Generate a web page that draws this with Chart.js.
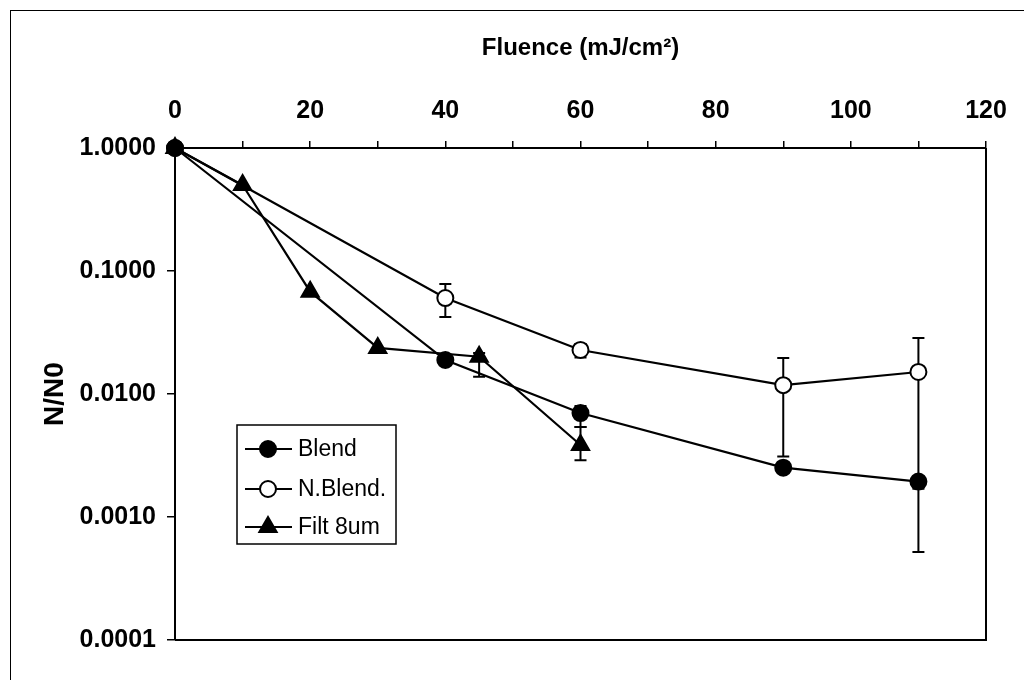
<!DOCTYPE html>
<html>
<head>
<meta charset="utf-8">
<script src="https://cdn.jsdelivr.net/npm/chart.js@4.4.1/dist/chart.umd.min.js"></script>
<style>
  html, body { margin: 0; padding: 0; background: #fff; overflow: hidden; }
  #wrap { position: relative; width: 1024px; height: 680px; overflow: hidden; }
  #frame { position: absolute; left: 10px; top: 10px; width: 1100px; height: 800px; border: 1.5px solid #000; }
  #chart { position: absolute; left: 0; top: 0; }
</style>
</head>
<body>
<div id="wrap">
  <div id="frame"></div>
  <canvas id="chart" width="1024" height="680"></canvas>
</div>
<script>
// values
const blendX = [0, 40, 60, 90, 110];
const blendY = [1.0, 0.0189, 0.0070, 0.00252, 0.00194];
const blendLo = [null, null, 0.0054, null, 0.00052];
const blendHi = [null, null, 0.0080, null, 0.0021];

const nblendX = [0, 40, 60, 90, 110];
const nblendY = [1.0, 0.0603, 0.0228, 0.0118, 0.0151];
const nblendLo = [null, 0.0423, 0.0198, 0.0031, 0.0017];
const nblendHi = [null, 0.0784, 0.0255, 0.0196, 0.0285];

const filtX = [0, 10, 20, 30, 45, 60];
const filtY = [1.0, 0.50, 0.0679, 0.0237, 0.0201, 0.00385];
const filtLo = [null, null, null, null, 0.0138, 0.0029];
const filtHi = [null, null, null, null, 0.0215, 0.0054];

const seriesNames = ['Blend', 'N.Blend.', 'Filt 8um'];
const yTicks = [0.0001, 0.001, 0.01, 0.1, 1];
const xTitle = 'Fluence (mJ/cm²)';
const yTitle = 'N/N0';

const pts = (xs, ys) => xs.map((x, i) => ({ x: x, y: ys[i] }));

Chart.defaults.font.family = "'Liberation Sans', Arial, sans-serif";
Chart.defaults.color = '#000';

const errorBars = {
    id: 'errorBars',
    beforeDatasetsDraw(chart) {
        const ctx = chart.ctx;
        const xs = chart.scales.x, ys = chart.scales.y;
        ctx.save();
        ctx.strokeStyle = '#000';
        ctx.lineWidth = 2;
        chart.data.datasets.forEach(ds => {
            ds.data.forEach((p, i) => {
                if (ds.errLo[i] == null) return;
                const px = xs.getPixelForValue(p.x);
                const top = ys.getPixelForValue(ds.errHi[i]);
                const bot = ys.getPixelForValue(ds.errLo[i]);
                ctx.beginPath();
                ctx.moveTo(px, top); ctx.lineTo(px, bot);
                ctx.moveTo(px - 6, top); ctx.lineTo(px + 6, top);
                ctx.moveTo(px - 6, bot); ctx.lineTo(px + 6, bot);
                ctx.stroke();
            });
        });
        ctx.restore();
    }
};

const frameAndLegend = {
    id: 'frameAndLegend',
    afterDraw(chart) {
        const ctx = chart.ctx;
        const a = chart.chartArea;
        ctx.save();
        ctx.strokeStyle = '#000';
        ctx.lineWidth = 2;
        ctx.beginPath();
        ctx.moveTo(a.right, a.top); ctx.lineTo(a.right, a.bottom);
        ctx.lineTo(a.left, a.bottom);
        ctx.stroke();

        // legend box
        const bx = 237, by = 425, bw = 159, bh = 119;
        ctx.fillStyle = '#fff';
        ctx.fillRect(bx, by, bw, bh);
        ctx.lineWidth = 1.5;
        ctx.strokeRect(bx, by, bw, bh);
        const rows = [449, 489, 527];
        ctx.font = "23px 'Liberation Sans', Arial, sans-serif";
        ctx.textBaseline = 'middle';
        chart.data.datasets.forEach((ds, i) => {
            const y = rows[i];
            ctx.strokeStyle = '#000';
            ctx.lineWidth = 2;
            ctx.beginPath();
            ctx.moveTo(245, y); ctx.lineTo(292, y);
            ctx.stroke();
            ctx.fillStyle = ds.pointBackgroundColor;
            Chart.helpers.drawPoint(ctx, {
                pointStyle: ds.pointStyle,
                radius: ds.pointRadius,
                borderWidth: ds.pointBorderWidth,
                rotation: 0
            }, 268, y);
            ctx.fillStyle = '#000';
            ctx.fillText(ds.label, 298, y + 1);
        });
        ctx.restore();
    }
};

const makeSet = (label, xs, ys, lo, hi, style, fill, r) => ({
    label: label,
    data: pts(xs, ys),
    errLo: lo,
    errHi: hi,
    borderColor: '#000',
    borderWidth: 2.2,
    tension: 0,
    pointStyle: style,
    pointRadius: r,
    pointHoverRadius: r,
    pointBackgroundColor: fill,
    pointBorderColor: '#000',
    pointBorderWidth: 2,
    clip: false
});

new Chart(document.getElementById('chart'), {
    type: 'line',
    data: {
        datasets: [
            makeSet(seriesNames[0], blendX, blendY, blendLo, blendHi, 'circle', '#000', 8),
            makeSet(seriesNames[1], nblendX, nblendY, nblendLo, nblendHi, 'circle', '#fff', 8),
            makeSet(seriesNames[2], filtX, filtY, filtLo, filtHi, 'triangle', '#000', 10)
        ]
    },
    options: {
        responsive: false,
        animation: false,
        events: [],
        layout: { padding: { left: 0, top: 0, right: 38, bottom: 40 } },
        plugins: { legend: { display: false }, tooltip: { enabled: false } },
        scales: {
            x: {
                type: 'linear',
                position: 'top',
                min: 0,
                max: 120,
                afterFit: s => { s.height = 148; },
                ticks: {
                    stepSize: 10,
                    autoSkip: false,
                    maxRotation: 0,
                    padding: 15,
                    font: { size: 25, weight: 'bold' },
                    callback: v => (v % 20 === 0 ? v : '')
                },
                grid: { drawOnChartArea: false, drawTicks: true, tickLength: 7, color: '#000', lineWidth: 1.5 },
                border: { display: true, color: '#000', width: 2 },
                title: {
                    display: true,
                    text: xTitle,
                    font: { size: 24, weight: 'bold' },
                    padding: { top: 34, bottom: 0 }
                }
            },
            y: {
                type: 'logarithmic',
                min: yTicks[0],
                max: yTicks[yTicks.length - 1],
                afterFit: s => { s.width = 175; },
                afterBuildTicks: s => { s.ticks = yTicks.map(v => ({ value: v })); },
                ticks: {
                    padding: 11,
                    font: { size: 25, weight: 'bold' },
                    callback: v => Number(v).toFixed(4)
                },
                grid: { drawOnChartArea: false, drawTicks: true, tickLength: 8, color: '#000', lineWidth: 1.5 },
                border: { display: true, color: '#000', width: 2 },
                title: {
                    display: true,
                    text: yTitle,
                    font: { size: 28, weight: 'bold' },
                    padding: { top: 38, bottom: 0 }
                }
            }
        }
    },
    plugins: [errorBars, frameAndLegend]
});
</script>
</body>
</html>
